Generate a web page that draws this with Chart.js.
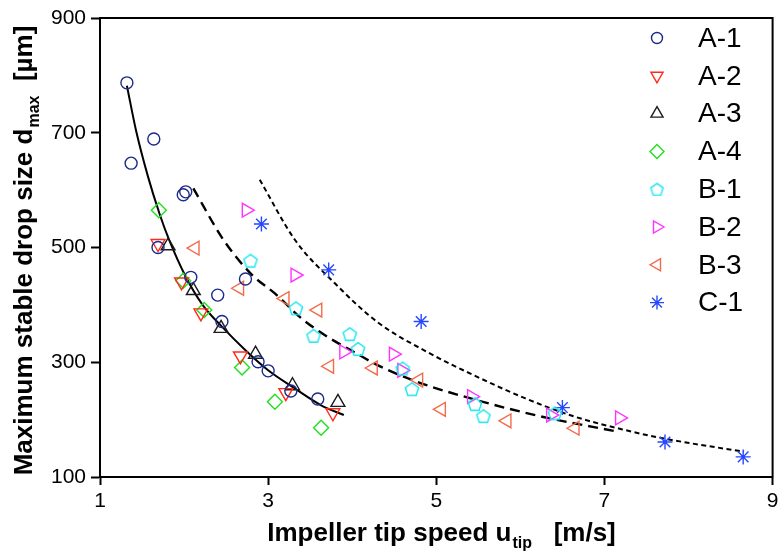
<!DOCTYPE html>
<html>
<head>
<meta charset="utf-8">
<script src="https://cdn.jsdelivr.net/npm/chart.js@4.4.1/dist/chart.umd.min.js"></script>
<style>
  body { margin: 0; background: #fff; }
  #c { display: block; }
</style>
</head>
<body>
<canvas id="c" width="782" height="556"></canvas>
<script>
// values
const a1X = [1.32, 1.37, 1.64, 1.99, 2.02, 1.69, 2.08, 2.40, 2.73, 2.45, 2.88, 3.00, 3.27, 3.59];
const a1Y = [787, 647, 689, 592, 597, 500, 448, 417, 445, 371, 301, 285, 250, 236];
const a2X = [1.69, 1.97, 2.20, 2.67, 3.21, 3.77];
const a2Y = [507, 440, 386, 311, 247, 212];
const a3X = [1.81, 2.11, 2.44, 2.85, 3.29, 3.83];
const a3Y = [503, 425, 359, 314, 259, 230];
const a4X = [1.70, 1.99, 2.24, 2.69, 3.08, 3.63];
const a4Y = [565, 442, 391, 291, 231, 186];
const b1X = [2.79, 3.33, 3.54, 3.97, 4.07, 4.60, 4.71, 5.46, 5.56, 6.41];
const b1Y = [477, 394, 346, 349, 323, 289, 253, 227, 206, 211];
const b2X = [2.74, 3.32, 3.90, 4.49, 4.59, 5.42, 6.36, 7.18];
const b2Y = [565, 452, 318, 314, 286, 240, 208, 203];
const b3X = [2.13, 2.66, 3.20, 3.59, 3.73, 4.25, 4.79, 5.06, 5.84, 6.65];
const b3Y = [499, 429, 411, 391, 293, 290, 269, 218, 198, 185];
const c1X = [2.92, 3.72, 4.82, 6.50, 7.72, 8.65];
const c1Y = [541, 461, 371, 221, 161, 135];

// fitted curves
const fitAX = [1.32, 1.43, 1.57, 1.71, 1.82, 2.02, 2.22, 2.45, 2.73, 3.00, 3.32, 3.63, 3.90];
const fitAY = [782, 703, 624, 558, 514, 449, 400, 362, 321, 286, 254, 225, 208];
const fitBX = [2.11, 2.47, 2.81, 3.08, 3.40, 3.71, 4.02, 4.30, 4.77, 5.48, 6.26, 7.16];
const fitBY = [603, 513, 452, 420, 376, 344, 318, 295, 266, 234, 205, 179];
const fitCX = [2.90, 3.32, 3.79, 4.30, 4.89, 5.48, 6.06, 6.65, 7.24, 7.71, 8.66];
const fitCY = [618, 513, 438, 370, 318, 275, 237, 205, 182, 167, 144];

const labels = ['A-1', 'A-2', 'A-3', 'A-4', 'B-1', 'B-2', 'B-3', 'C-1'];
const colors = ['#1c2a8c', '#ff2a1a', '#1a1a1a', '#1fe01f', '#19e6f0', '#ff33ff', '#f26b4a', '#2547ff'];

const FONT = "'Liberation Sans', Arial, sans-serif";

function pts(xs, ys) {
    return xs.map((x, i) => ({ x: x, y: ys[i] }));
}

function pentagon(r, color) {
    const cv = document.createElement('canvas');
    const s = Math.ceil(r * 2 + 4);
    cv.width = s;
    cv.height = s;
    const g = cv.getContext('2d');
    g.strokeStyle = color;
    g.lineWidth = 1.4;
    g.beginPath();
    for (let i = 0; i < 5; i++) {
        const a = -Math.PI / 2 + i * 2 * Math.PI / 5;
        const px = s / 2 + Math.cos(a) * r;
        const py = s / 2 + 0.6 + Math.sin(a) * r;
        if (i === 0) g.moveTo(px, py); else g.lineTo(px, py);
    }
    g.closePath();
    g.stroke();
    return cv;
}

const styles = [
    { pointStyle: 'circle', rotation: 0, r: 6, lr: 5.5 },
    { pointStyle: 'triangle', rotation: 180, r: 8, lr: 7 },
    { pointStyle: 'triangle', rotation: 0, r: 8, lr: 7 },
    { pointStyle: 'rectRot', rotation: 0, r: 7.5, lr: 7 },
    { pointStyle: pentagon(7, colors[4]), rotation: 0, r: 7, lr: 6 },
    { pointStyle: 'triangle', rotation: 90, r: 8, lr: 7 },
    { pointStyle: 'triangle', rotation: -90, r: 8, lr: 7 },
    { pointStyle: 'star', rotation: 0, r: 7.5, lr: 7 }
];
const legendPent = pentagon(6.5, colors[4]);

const series = [
    pts(a1X, a1Y), pts(a2X, a2Y), pts(a3X, a3Y), pts(a4X, a4Y),
    pts(b1X, b1Y), pts(b2X, b2Y), pts(b3X, b3Y), pts(c1X, c1Y)
];

const datasets = series.map((d, i) => ({
    label: labels[i],
    data: d,
    showLine: false,
    pointStyle: styles[i].pointStyle,
    rotation: styles[i].rotation,
    pointRadius: styles[i].r,
    pointHoverRadius: styles[i].r,
    pointBorderWidth: 1.4,
    borderColor: colors[i],
    backgroundColor: 'rgba(0,0,0,0)',
    order: 1
}));

function fitLine(xs, ys, dash, width) {
    return {
        label: 'fit',
        data: pts(xs, ys),
        showLine: true,
        pointRadius: 0,
        borderColor: '#000',
        borderWidth: width,
        borderDash: dash,
        cubicInterpolationMode: 'monotone',
        fill: false,
        order: 2
    };
}
datasets.push(fitLine(fitAX, fitAY, [], 2));
datasets.push(fitLine(fitBX, fitBY, [10, 6], 2.4));
datasets.push(fitLine(fitCX, fitCY, [5, 3.5], 2));

function drawMarker(ctx, i, x, y) {
    const st = styles[i];
    ctx.save();
    ctx.strokeStyle = colors[i];
    ctx.lineWidth = 1.4;
    if (i === 4) {
        ctx.drawImage(legendPent, x - legendPent.width / 2, y - legendPent.height / 2);
        ctx.restore();
        return;
    }
    const r = st.lr;
    ctx.beginPath();
    if (st.pointStyle === 'circle') {
        ctx.arc(x, y, r, 0, Math.PI * 2);
    } else if (st.pointStyle === 'triangle') {
        let rad = st.rotation * Math.PI / 180;
        for (let k = 0; k < 3; k++) {
            const px = x + Math.sin(rad) * r;
            const py = y - Math.cos(rad) * r;
            if (k === 0) ctx.moveTo(px, py); else ctx.lineTo(px, py);
            rad += 2 * Math.PI / 3;
        }
        ctx.closePath();
    } else if (st.pointStyle === 'rectRot') {
        ctx.moveTo(x, y - r);
        ctx.lineTo(x + r, y);
        ctx.lineTo(x, y + r);
        ctx.lineTo(x - r, y);
        ctx.closePath();
    } else if (st.pointStyle === 'star') {
        for (let k = 0; k < 4; k++) {
            const a = k * Math.PI / 4;
            ctx.moveTo(x - Math.cos(a) * r, y - Math.sin(a) * r);
            ctx.lineTo(x + Math.cos(a) * r, y + Math.sin(a) * r);
        }
    }
    ctx.stroke();
    ctx.restore();
}

const decor = {
    id: 'decor',
    afterDraw(chart) {
        const ctx = chart.ctx;
        const a = chart.chartArea;
        ctx.save();
        // frame
        ctx.strokeStyle = '#000';
        ctx.lineWidth = 2;
        ctx.strokeRect(a.left, a.top, a.right - a.left, a.bottom - a.top);

        // legend
        ctx.fillStyle = '#000';
        ctx.font = '28px ' + FONT;
        ctx.textBaseline = 'middle';
        ctx.textAlign = 'left';
        for (let i = 0; i < labels.length; i++) {
            const y = 38 + i * 37.8;
            drawMarker(ctx, i, 657, y);
            ctx.fillText(labels[i], 698, y + 1);
        }

        // x title with subscript
        ctx.textBaseline = 'alphabetic';
        const big = 'bold 26px ' + FONT;
        const small = 'bold 16px ' + FONT;
        const xs1 = 'Impeller tip speed u', xsub = 'tip', xs2 = '   [m/s]';
        ctx.font = big;
        const w1 = ctx.measureText(xs1).width, w3 = ctx.measureText(xs2).width;
        ctx.font = small;
        const w2 = ctx.measureText(xsub).width;
        let x0 = 441 - (w1 + w2 + w3) / 2;
        const by = 541;
        ctx.font = big;
        ctx.fillText(xs1, x0, by);
        ctx.font = small;
        ctx.fillText(xsub, x0 + w1 + 1, by + 7);
        ctx.font = big;
        ctx.fillText(xs2, x0 + w1 + w2 + 1, by);

        // y title with subscript
        const ys1 = 'Maximum stable drop size d', ysub = 'max', ys2 = '  [\u00b5m]';
        ctx.font = big;
        const v1 = ctx.measureText(ys1).width, v3 = ctx.measureText(ys2).width;
        ctx.font = small;
        const v2 = ctx.measureText(ysub).width;
        ctx.translate(32, 251);
        ctx.rotate(-Math.PI / 2);
        let s0 = -(v1 + v2 + v3) / 2;
        ctx.font = big;
        ctx.fillText(ys1, s0, 0);
        ctx.font = small;
        ctx.fillText(ysub, s0 + v1 + 1, 7);
        ctx.font = big;
        ctx.fillText(ys2, s0 + v1 + v2 + 1, 0);
        ctx.restore();
    }
};

new Chart(document.getElementById('c'), {
    type: 'scatter',
    data: { datasets: datasets },
    options: {
        responsive: false,
        animation: false,
        events: [],
        layout: { padding: { top: 18, right: 3, left: 0, bottom: 0 } },
        plugins: {
            legend: { display: false },
            tooltip: { enabled: false }
        },
        scales: {
            x: {
                type: 'linear',
                min: 1,
                max: 9,
                ticks: {
                    stepSize: 2,
                    color: '#000',
                    padding: 4,
                    maxRotation: 0,
                    font: { size: 21, family: FONT }
                },
                grid: {
                    drawOnChartArea: false,
                    drawTicks: true,
                    tickLength: 8,
                    tickWidth: 2,
                    color: '#000'
                },
                border: { color: '#000', width: 2 },
                afterFit: function (s) {
                    s.height = 79;
                    s.paddingLeft = 0;
                    s.paddingRight = 0;
                }
            },
            y: {
                type: 'linear',
                min: 100,
                max: 900,
                ticks: {
                    stepSize: 200,
                    color: '#000',
                    padding: 5,
                    font: { size: 21, family: FONT }
                },
                grid: {
                    drawOnChartArea: false,
                    drawTicks: true,
                    tickLength: 9,
                    tickWidth: 2,
                    color: '#000'
                },
                border: { color: '#000', width: 2 },
                afterFit: function (s) {
                    s.width = 100;
                }
            }
        }
    },
    plugins: [decor]
});
</script>
</body>
</html>
